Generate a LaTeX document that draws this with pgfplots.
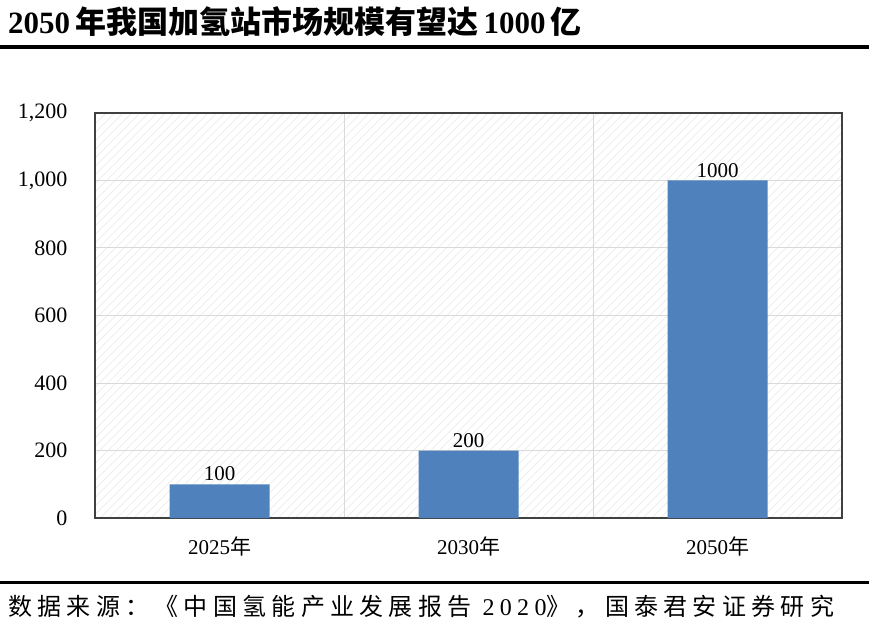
\documentclass[border=0pt]{standalone}
\usepackage{fontspec}
\setmainfont{Liberation Serif}
\newfontfamily\cjk{Noto Sans CJK SC}
\usepackage{pgfplots}
\pgfplotsset{compat=1.18}
\usetikzlibrary{patterns.meta}
\definecolor{barblue}{RGB}{79,129,189}
\begin{document}
\begin{tikzpicture}
\path[use as bounding box] (0pt,0pt) rectangle (869pt,635pt);
\node[anchor=west, inner sep=0] at (8pt,613pt) {\fontsize{31}{34}\selectfont\bfseries 2050\,{\cjk 年我国加氢站市场规模有望达}\,1000\,{\cjk 亿}};
\fill[black] (0pt,586pt) rectangle (869pt,590pt);
\fill[black] (0pt,51pt) rectangle (869pt,54pt);
\node[anchor=west, inner sep=0] at (8pt,28pt) {\fontsize{24}{28}\selectfont\addfontfeature{LetterSpace=22}{\cjk\addfontfeature{LetterSpace=22} 数据来源：《中国氢能产业发展报告} 2020{\cjk\addfontfeature{LetterSpace=22}》，国泰君安证券研究}};
\begin{axis}[at={(95pt,117pt)}, anchor=south west, width=747pt, height=405pt, scale only axis,
  xmin=-0.5, xmax=2.5, ymin=0, ymax=1200,
  xtick={0,1,2}, xticklabels={2025{\cjk 年},2030{\cjk 年},2050{\cjk 年}},
  ytick={0,200,...,1200},
  ymajorgrids, major grid style={draw=black!15, line width=1pt},
  minor xtick={0.5,1.5}, xminorgrids, minor grid style={draw=black!15, line width=1pt},
  major tick length=0, minor tick length=0,
  axis line style={draw=black!75, line width=1.5pt},
  axis background/.style={pattern={Lines[angle=45,distance=6pt,line width=0.7pt]}, pattern color=black!8},
  tick label style={font=\fontsize{22}{24}\selectfont},
  /pgf/number format/assume math mode=true,
  /pgf/number format/1000 sep={,},
  yticklabel style={xshift=-24pt},
  xticklabel style={yshift=-15pt, font=\fontsize{21}{24}\selectfont},
]
\addplot[ybar, bar width=100pt, fill=barblue, draw=none, nodes near coords,
  nodes near coords style={font=\fontsize{21}{24}\selectfont, /pgf/number format/1000 sep={}, inner sep=3pt}]
  coordinates {(0,100) (1,200) (2,1000)};
\end{axis}
\end{tikzpicture}
\end{document}
